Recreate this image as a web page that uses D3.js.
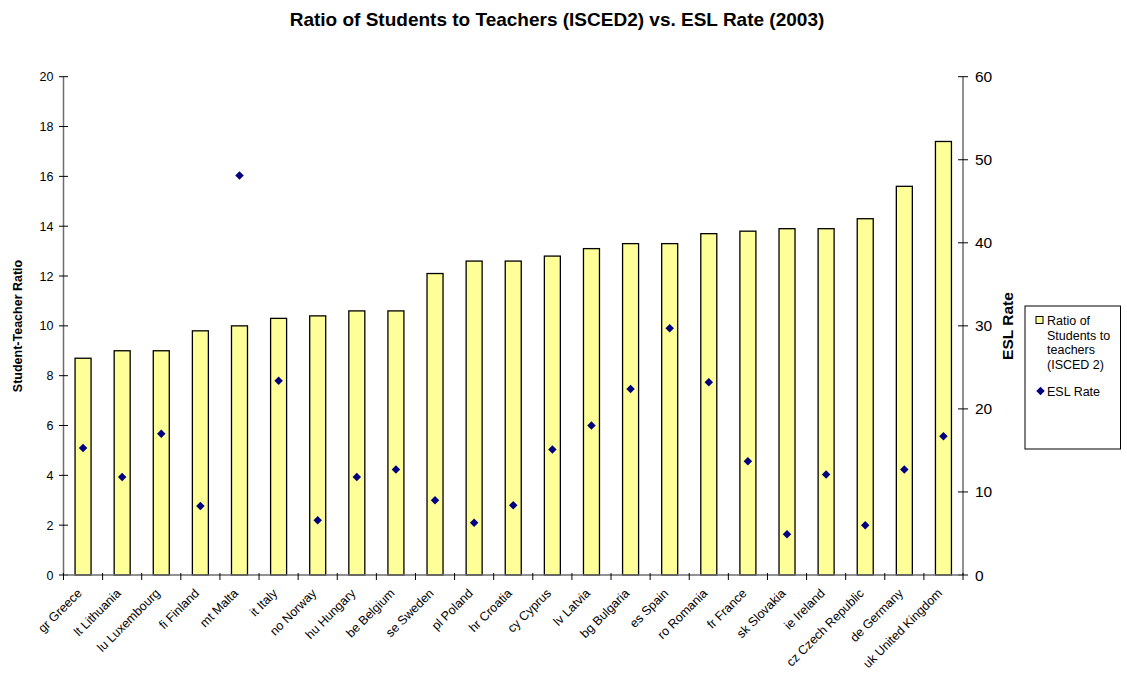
<!DOCTYPE html>
<html><head><meta charset="utf-8">
<script src="https://cdn.jsdelivr.net/npm/d3@7"></script>
<style>body{margin:0;background:#fff;} text{font-family:Arial,"Liberation Sans",sans-serif;}</style>
</head><body>
<svg id="c" width="1127" height="673"></svg>
<script>
const categories = ["gr Greece","lt Lithuania","lu Luxembourg","fi Finland","mt Malta","it Italy","no Norway","hu Hungary","be Belgium","se Sweden","pl Poland","hr Croatia","cy Cyprus","lv Latvia","bg Bulgaria","es Spain","ro Romania","fr France","sk Slovakia","ie Ireland","cz Czech Republic","de Germany","uk United Kingdom"];
const ratioValues = [8.7,9.0,9.0,9.8,10.0,10.3,10.4,10.6,10.6,12.1,12.6,12.6,12.8,13.1,13.3,13.3,13.7,13.8,13.9,13.9,14.3,15.6,17.4];
const eslValues = [15.3,11.8,17.0,8.3,48.1,23.4,6.6,11.8,12.7,9.0,6.3,8.4,15.1,18.0,22.4,29.7,23.2,13.7,4.9,12.1,6.0,12.7,16.7];
const leftTicks = [0,2,4,6,8,10,12,14,16,18,20];
const rightTicks = [0,10,20,30,40,50,60];
const title = "Ratio of Students to Teachers (ISCED2) vs. ESL Rate (2003)";
const leftTitle = "Student-Teacher Ratio";
const rightTitle = "ESL Rate";
const legendBar = ["Ratio of","Students to","teachers","(ISCED 2)"];
const legendEsl = "ESL Rate";

const svg = d3.select("#c");
const L = 63.5, R = 963, T = 76.7, B = 575;
const xb = d3.scaleBand().domain(categories).range([L, R]);
const yL = d3.scaleLinear().domain([0,20]).range([B, T]);
const yR = d3.scaleLinear().domain([0,60]).range([B, T]);

svg.append("text").attr("x", 557).attr("y", 26).attr("text-anchor","middle")
  .attr("font-size", 19).attr("font-weight","bold").text(title);

// bars
svg.append("g").selectAll("rect").data(categories).join("rect")
  .attr("x", d => xb(d) + xb.bandwidth()/2 - 8)
  .attr("width", 16)
  .attr("y", (d,i) => yL(ratioValues[i]))
  .attr("height", (d,i) => B - yL(ratioValues[i]))
  .attr("fill", "#FFFF99").attr("stroke", "#000").attr("stroke-width", 1.3);

// left axis
const gl = svg.append("g");
gl.append("line").attr("x1",L).attr("x2",L).attr("y1",T).attr("y2",B).attr("stroke","#6e6e6e").attr("stroke-width",1.5);
gl.selectAll("line.t").data(leftTicks).join("line").attr("class","t")
  .attr("x1",L-4.5).attr("x2",L+4.5).attr("y1",d=>yL(d)).attr("y2",d=>yL(d)).attr("stroke","#000");
gl.selectAll("text").data(leftTicks).join("text")
  .attr("x", L-10).attr("y", d=>yL(d)+4.5).attr("text-anchor","end").attr("font-size",12.5).text(d=>d);

// right axis
const gr = svg.append("g");
gr.append("line").attr("x1",R).attr("x2",R).attr("y1",T).attr("y2",B).attr("stroke","#6e6e6e").attr("stroke-width",1.5);
gr.selectAll("line.t").data(rightTicks).join("line").attr("class","t")
  .attr("x1",R-5).attr("x2",R+5).attr("y1",d=>yR(d)).attr("y2",d=>yR(d)).attr("stroke","#000");
gr.selectAll("text").data(rightTicks).join("text")
  .attr("x", R+12).attr("y", d=>yR(d)+5.5).attr("font-size",15.5).text(d=>d);

// bottom axis
const gb = svg.append("g");
gb.append("line").attr("x1",L).attr("x2",R).attr("y1",B).attr("y2",B).attr("stroke","#6e6e6e").attr("stroke-width",1.5);
const bt = categories.map(c => xb(c)).concat([R]);
gb.selectAll("line.t").data(bt).join("line").attr("class","t")
  .attr("x1",d=>d).attr("x2",d=>d).attr("y1",B-2).attr("y2",B+5).attr("stroke","#000");
gb.selectAll("text").data(categories).join("text")
  .attr("transform", d => `translate(${xb(d)+xb.bandwidth()/2-0.5},${B+19}) rotate(-45)`)
  .attr("text-anchor","end").attr("font-size",12.5).text(d=>d);

// ESL markers
const sym = d3.symbol().type(d3.symbolDiamond2).size(46);
svg.append("g").selectAll("path").data(categories).join("path")
  .attr("d", sym)
  .attr("transform", (d,i) => `translate(${xb(d)+xb.bandwidth()/2},${yR(eslValues[i])})`)
  .attr("fill","#000080");

// axis titles
svg.append("text").attr("transform","translate(22,326) rotate(-90)").attr("text-anchor","middle")
  .attr("font-size",12.5).attr("font-weight","bold").text(leftTitle);
svg.append("text").attr("transform","translate(1013,326) rotate(-90)").attr("text-anchor","middle")
  .attr("font-size",15.5).attr("font-weight","bold").text(rightTitle);

// legend
const lg = svg.append("g");
lg.append("rect").attr("x",1025).attr("y",306).attr("width",95.5).attr("height",143)
  .attr("fill","#fff").attr("stroke","#000").attr("stroke-width",1);
lg.append("rect").attr("x",1036).attr("y",316.5).attr("width",7).attr("height",7)
  .attr("fill","#FFFF99").attr("stroke","#000").attr("stroke-width",1);
lg.selectAll("text.b").data(legendBar).join("text").attr("class","b")
  .attr("x",1047).attr("y",(d,i)=>325 + i*14.7).attr("font-size",12.5).text(d=>d);
lg.append("path").attr("d", sym).attr("transform","translate(1040.5,391)").attr("fill","#000080");
lg.append("text").attr("x",1047).attr("y",396).attr("font-size",12.5).text(legendEsl);
</script>
</body></html>
